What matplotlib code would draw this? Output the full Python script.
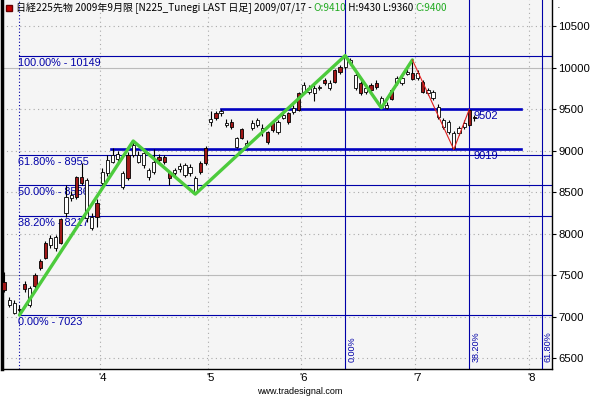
import matplotlib
matplotlib.use("Agg")
import matplotlib.pyplot as plt
import numpy as np

plt.rcParams['font.family'] = ['Liberation Sans', 'Noto Sans CJK JP', 'DejaVu Sans']

# daily bars (open, high, low, close), index = trading day from early March 2009
opens = [7422, 7145, 7048, 7100, 7398, 7145, 7506, 7675, 7892, 7868,
         7831, 8181, 8253, 8430, 8687, 8687, 8190, 8072, 8374, 8615,
         8735, 8868, 8900, 8570, 8952, 8952, 8868, 8832, 8687, 8747,
         8928, 8928, 8735, 8735, 8783, 8711, 8735, 8494, 8856, 9036,
         9350, 9458, 9458, 9314, 9350, 9049, 9265, 9073, 9277, 9314,
         9253, 9229, 9338, 9229, 9398, 9458, 9470, 9699, 9711, 9711,
         9699, 9760, 9856, 9760, 9976, 10012, 10012, 10061, 9760, 9820,
         9711, 9796, 9820, 9530, 9518, 9735, 9820, 9820, 9930, 9940,
         9880, 9832, 9699, 9639, 9410, 9290, 9229, 9036, 9217, 9290,
         9494, 9410]
highs = [7540, 7240, 7200, 7150, 7430, 7370, 7530, 7700, 7910, 7990,
         7990, 8190, 8590, 8520, 8700, 8860, 8680, 8250, 8420, 8790,
         8950, 9030, 9000, 8760, 8990, 9120, 9000, 9010, 8800, 9020,
         8960, 8950, 8760, 8800, 8860, 8860, 8840, 8700, 8880, 9060,
         9480, 9480, 9502, 9380, 9380, 9170, 9280, 9130, 9370, 9400,
         9320, 9240, 9360, 9370, 9460, 9470, 9550, 9710, 9830, 9790,
         9790, 9800, 9880, 9850, 9990, 10040, 10149, 10120, 9940, 9840,
         9800, 9820, 9850, 9660, 9590, 9760, 9900, 9920, 9990, 10097,
         9970, 9850, 9760, 9730, 9560, 9400, 9370, 9240, 9300, 9370,
         9502, 9430]
lows = [7300, 7120, 7040, 7023, 7300, 7120, 7350, 7560, 7700, 7830,
        7800, 7880, 8200, 8400, 8420, 8590, 8150, 8050, 8080, 8560,
        8700, 8850, 8860, 8540, 8650, 8930, 8850, 8800, 8650, 8720,
        8860, 8840, 8590, 8700, 8750, 8690, 8700, 8480, 8720, 8830,
        9300, 9370, 9420, 9290, 9270, 9030, 9140, 9050, 9250, 9290,
        9180, 9090, 9230, 9200, 9380, 9320, 9450, 9480, 9690, 9690,
        9600, 9740, 9790, 9730, 9820, 9930, 9990, 10040, 9740, 9680,
        9690, 9710, 9750, 9518, 9510, 9610, 9800, 9800, 9920, 9850,
        9860, 9700, 9680, 9620, 9390, 9270, 9210, 9019, 9190, 9270,
        9300, 9360]
closes = [7325, 7205, 7169, 7080, 7337, 7349, 7374, 7590, 7711, 7952,
          7964, 7892, 8446, 8470, 8446, 8615, 8651, 8205, 8205, 8747,
          8892, 8952, 8960, 8735, 8675, 9073, 8952, 8976, 8771, 8868,
          8892, 8868, 8675, 8771, 8820, 8832, 8807, 8675, 8747, 8856,
          9386, 9398, 9482, 9338, 9290, 9157, 9157, 9097, 9338, 9374,
          9277, 9109, 9253, 9350, 9434, 9350, 9518, 9494, 9796, 9760,
          9760, 9772, 9820, 9820, 9832, 9952, 10133, 10097, 9916, 9699,
          9760, 9735, 9772, 9639, 9555, 9627, 9880, 9880, 9950, 9870,
          9940, 9711, 9735, 9711, 9530, 9374, 9350, 9217, 9277, 9338,
          9314, 9400]

month_pos = [18.5, 39.5, 57.5, 79.5, 101.5]
month_labels = ["'4", "'5", "'6", "'7", "'8"]

# fibonacci retracement
fib_start = 3
fib_pct = ['0.00%', '38.20%', '50.00%', '61.80%', '100.00%']
fib_val = [7023, 8217, 8586, 8955, 10149]

# time fibonacci
tfib_pos = [66, 90, 104]
tfib_pct = ['0.00%', '38.20%', '61.80%']

# zigzag
zig_x = [3, 25, 37, 66, 73, 79]
zig_y = [7023, 9120, 8480, 10149, 9520, 10097]
red_x = [79, 87, 90]
red_y = [10097, 9019, 9502]

# support / resistance lines
sr_val = [9502, 9019]
sr_from = [42, 20.7]
sr_to = 100

navy = '#0000A8'

fig = plt.figure(figsize=(6, 4), dpi=100)
ax = fig.add_axes([0.004, 0.0775, 0.916, 0.9225])
ax.set_facecolor('#F5F5F5')
ax.set_xlim(-0.3, 106.0)
ax.set_ylim(6373, 10819)

# grid
for v in range(6500, 11000, 500):
    if v in (7500, 10000):
        ax.axhline(v, color='#BBBBBB', lw=0.8, zorder=0)
    else:
        ax.axhline(v, color='#AAAAAA', lw=0.8, ls=(0, (1, 3)), zorder=0)
for p in month_pos:
    ax.axvline(p, color='#AAAAAA', lw=0.8, ls=(0, (1, 3)), zorder=0)

# fib horizontal lines
ax.axvline(fib_start, color=navy, lw=0.8, ls=(0, (1, 2)), zorder=1)
for pct, v in zip(fib_pct, fib_val):
    ax.plot([fib_start, 106], [v, v], color=navy, lw=0.8, zorder=1)
    ax.annotate(f'{pct} - {v}', (fib_start, v), xytext=(-1, -1.5),
                textcoords='offset points', va='top', ha='left',
                color=navy, fontsize=7.8)

# time fib lines
for pct, p in zip(tfib_pct, tfib_pos):
    ax.axvline(p, color=navy, lw=0.8, zorder=1)
    ax.annotate(pct, (p, 6373), xytext=(1.5, 5), textcoords='offset points',
                rotation=90, va='bottom', ha='left', color=navy, fontsize=6.5)

# support / resistance
for v, x0 in zip(sr_val, sr_from):
    ax.plot([x0, sr_to], [v, v], color='#0000C0', lw=1.9, zorder=2)
    ax.annotate(str(v), (90, v), xytext=(3, -1.5), textcoords='offset points',
                va='top', ha='left', color=navy, fontsize=8)

# candles
x = np.arange(len(opens))
o = np.array(opens)
h = np.array(highs)
l = np.array(lows)
c = np.array(closes)
ax.vlines(x, l, h, color='black', lw=0.8, zorder=3)
up = c >= o
body = np.maximum(np.abs(c - o), 10)
ax.bar(x[up], body[up], bottom=np.minimum(o, c)[up], width=0.62,
       color='white', edgecolor='black', lw=0.6, zorder=4)
ax.bar(x[~up], body[~up], bottom=np.minimum(o, c)[~up], width=0.62,
       color='#A01818', edgecolor='black', lw=0.6, zorder=4)

ax.plot(zig_x, zig_y, color='#4CCB3C', lw=2.4, zorder=5, solid_capstyle='round')
ax.plot(red_x, red_y, color='#E02020', lw=0.8, zorder=5)

# axes styling
ax.spines['top'].set_visible(False)
ax.spines['left'].set_linewidth(2.5)
ax.spines['right'].set_linewidth(1.0)
ax.spines['bottom'].set_linewidth(1.0)
ax.yaxis.tick_right()
ax.set_yticks(range(6500, 11000, 500))
ax.tick_params(axis='y', length=3, width=0.8, pad=1.5, labelsize=8.2)
ax.set_xticks(month_pos)
ax.set_xticklabels([])
ax.tick_params(axis='x', length=0)
for p, lab in zip(month_pos, month_labels):
    ax.annotate(lab, (p, 6373), xytext=(-1, -3), textcoords='offset points',
                va='top', ha='left', fontsize=8.2, annotation_clip=False)

# title with coloured pieces
ax.plot([0.012], [0.978], marker='s', color='#CC0000', markersize=4.5,
        markeredgecolor='#660000', transform=ax.transAxes, clip_on=False, zorder=6)
parts = [("日経225先物 2009年9月限 [N225_Tunegi LAST 日足] 2009/07/17 - ", 'black'),
         ("O:9410", '#22AA22'), (" H:9430 L:9360 ", 'black'), ("C:9400", '#22AA22')]
prev = ax.text(0.024, 0.978, parts[0][0], transform=ax.transAxes, va='center',
               ha='left', fontsize=7.2, color=parts[0][1],
               family=['Noto Sans CJK JP', 'DejaVu Sans'])
for txt, col in parts[1:]:
    prev = ax.annotate(txt, xy=(1, 0.5), xycoords=prev, va='center', ha='left',
                       fontsize=7.2, color=col, family=['Noto Sans CJK JP', 'DejaVu Sans'])

fig.text(0.5, 0.02, 'www.tradesignal.com', ha='center', va='center', fontsize=6.5)
fig.text(0.927, 0.98, '·', ha='left', va='center', fontsize=8)

fig.savefig('out.png', dpi=100)
